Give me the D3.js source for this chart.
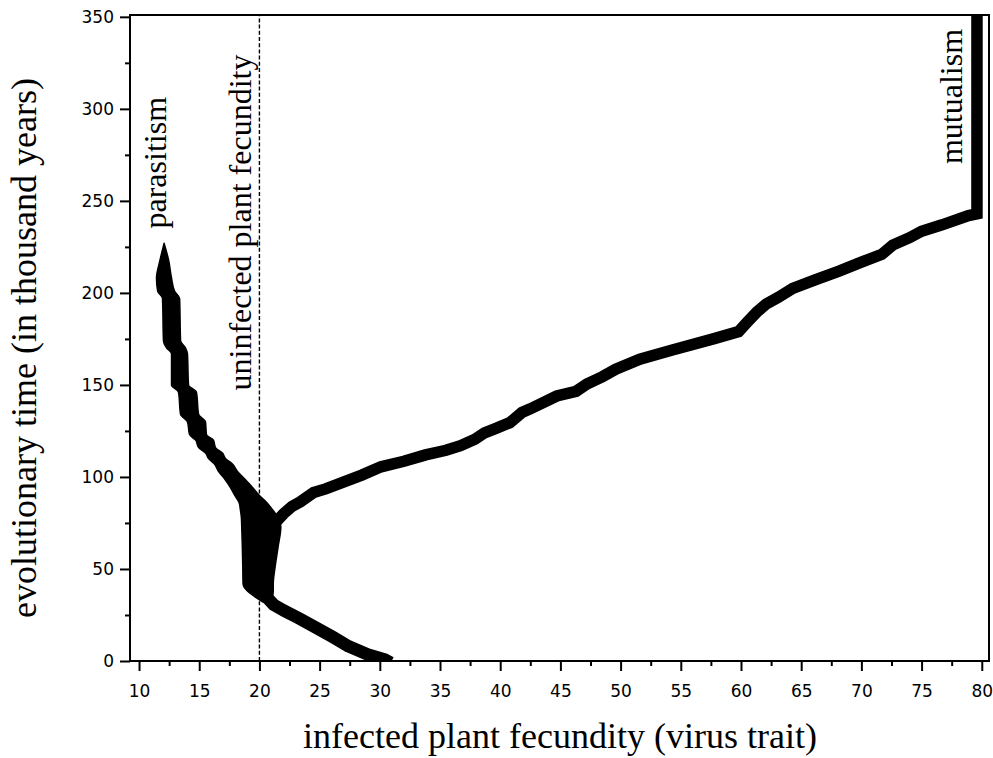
<!DOCTYPE html>
<html>
<head>
<meta charset="utf-8">
<script src="https://cdn.jsdelivr.net/npm/d3@7"></script>
<style>
  body { margin: 0; background: #fff; }
</style>
</head>
<body>
<div id="chart"></div>
<script>
// ancestral trunk: (trait, time) before branching
const trunkTrait = [20.3, 20.7, 21.2, 22.0, 23.2, 24.6, 26.1, 27.4, 29.0, 30.4, 30.9];
const trunkTime  = [40, 34, 30.5, 27.5, 23.5, 18.5, 13, 8, 3.5, 0.8, -1];

// parasitic stem + dimorphic blob, drawn as left/right extent per time
const stemTime = [227, 218, 208, 201, 197, 174, 170, 167, 150, 146, 134, 130, 123, 120, 116, 113, 110, 107, 103, 99, 95, 90, 86, 82, 78, 73, 62, 50, 42, 38, 35, 32];
const stemLow  = [12.08, 11.75, 11.45, 11.55, 11.95, 12.03, 12.30, 12.70, 12.70, 13.28, 13.45, 14.02, 14.20, 14.70, 14.95, 15.52, 15.78, 16.27, 16.60, 17.10, 17.52, 17.95, 18.32, 18.42, 18.50, 18.53, 18.58, 18.62, 18.64, 19.0, 19.6, 20.3];
const stemHigh = [12.08, 12.45, 12.70, 12.95, 13.37, 13.45, 13.86, 14.02, 14.11, 14.77, 14.95, 15.52, 15.60, 16.18, 16.35, 16.93, 17.18, 17.76, 18.18, 18.76, 19.34, 19.98, 20.62, 21.12, 21.55, 21.78, 21.55, 21.28, 21.15, 21.15, 21.10, 21.00];

// mutualistic branch
const branchTrait = [21.3, 22.0, 22.7, 23.4, 24.5, 25.5, 27.3, 28.5, 30.1, 32.0, 33.8, 35.5, 36.7, 37.9, 38.7, 39.7, 40.8, 41.8, 42.5, 44.7, 46.3, 47.2, 48.5, 49.6, 51.6, 54.3, 57.7, 59.8, 60.5, 61.3, 62.1, 63.1, 64.3, 66.1, 68.2, 70.0, 71.7, 72.6, 74.0, 75.0, 76.7, 78.9, 79.6, 79.6];
const branchTime  = [75, 80, 84, 86.5, 91.5, 93.5, 98, 101, 105.5, 108.5, 112, 114.5, 117, 120.5, 124, 126.5, 129.5, 135, 137, 144, 146.5, 150.5, 154.5, 158.5, 164, 169, 175, 179, 184, 189.5, 194, 197.6, 202.5, 207, 212, 216.7, 221, 226, 230, 233.5, 237, 242, 243, 355];

const uninfectedFecundity = 20;

const xTickValues = [10, 15, 20, 25, 30, 35, 40, 45, 50, 55, 60, 65, 70, 75, 80];
const xMinorTicks = [12.5, 17.5, 22.5, 27.5, 32.5, 37.5, 42.5, 47.5, 52.5, 57.5, 62.5, 67.5, 72.5, 77.5];
const yTickValues = [0, 50, 100, 150, 200, 250, 300, 350];
const yMinorTicks = [25, 75, 125, 175, 225, 275, 325];

let width = 993,
  height = 758,
  margin = ({ top: 15, right: 4, bottom: 97, left: 130 });

let x = d3.scaleLinear()
  .domain([9.25, 80.6])
  .range([margin.left, width - margin.right]);

let y = d3.scaleLinear()
  .domain([0, 351])
  .range([height - margin.bottom, margin.top]);

const svg = d3.select("#chart")
  .append("svg")
  .attr("width", width)
  .attr("height", height)
  .attr("viewBox", [0, 0, width, height]);

svg.append("clipPath")
  .attr("id", "plot")
  .append("rect")
  .attr("x", margin.left)
  .attr("y", margin.top)
  .attr("width", width - margin.left - margin.right)
  .attr("height", height - margin.top - margin.bottom);

const plot = svg.append("g").attr("clip-path", "url(#plot)");

// dashed reference line
plot.append("line")
  .attr("x1", x(uninfectedFecundity))
  .attr("x2", x(uninfectedFecundity))
  .attr("y1", y(0))
  .attr("y2", y(351))
  .attr("stroke", "#000")
  .attr("stroke-width", 1.4)
  .attr("stroke-dasharray", "4,2.2");

let stem = stemTime.map((t, i) => ({ t: t, lo: stemLow[i], hi: stemHigh[i] }));
let trunk = trunkTime.map((t, i) => ({ t: t, v: trunkTrait[i] }));
let branch = branchTime.map((t, i) => ({ t: t, v: branchTrait[i] }));

let area = d3.area()
  .y(d => y(d.t))
  .x0(d => x(d.lo))
  .x1(d => x(d.hi))
  .curve(d3.curveMonotoneY);

let line = d3.line()
  .x(d => x(d.v))
  .y(d => y(d.t));

plot.append("path")
  .datum(stem)
  .attr("fill", "#000")
  .attr("stroke", "#000")
  .attr("stroke-width", 1.5)
  .attr("stroke-linejoin", "round")
  .attr("d", area);

plot.append("path")
  .datum(trunk)
  .attr("fill", "none")
  .attr("stroke", "#000")
  .attr("stroke-width", 12.5)
  .attr("stroke-linejoin", "round")
  .attr("d", line);

plot.append("path")
  .datum(branch)
  .attr("fill", "none")
  .attr("stroke", "#000")
  .attr("stroke-width", 11.5)
  .attr("stroke-linejoin", "miter")
  .attr("d", line);

// axes
svg.append("g")
  .attr("transform", `translate(0,${y(0)})`)
  .call(d3.axisBottom(x).tickValues(xTickValues).tickSize(10).tickSizeOuter(0).tickPadding(14));

svg.append("g")
  .attr("transform", `translate(0,${y(0)})`)
  .call(d3.axisBottom(x).tickValues(xMinorTicks).tickSize(5).tickFormat(""));

svg.append("g")
  .attr("transform", `translate(${margin.left},0)`)
  .call(d3.axisLeft(y).tickValues(yTickValues).tickSize(10).tickSizeOuter(0).tickPadding(6));

svg.append("g")
  .attr("transform", `translate(${margin.left},0)`)
  .call(d3.axisLeft(y).tickValues(yMinorTicks).tickSize(5).tickFormat(""));

svg.selectAll(".domain").remove();
svg.selectAll(".tick line").attr("stroke", "#000").attr("stroke-width", 2);
svg.selectAll(".tick text")
  .attr("fill", "#000")
  .style("font-family", "'DejaVu Sans', sans-serif")
  .style("font-size", "17px");

// frame
svg.append("rect")
  .attr("x", margin.left)
  .attr("y", margin.top)
  .attr("width", width - margin.left - margin.right)
  .attr("height", height - margin.top - margin.bottom)
  .attr("fill", "none")
  .attr("stroke", "#000")
  .attr("stroke-width", 2);

const serif = "'Liberation Serif', 'Times New Roman', serif";

svg.append("text")
  .attr("x", 560)
  .attr("y", 748)
  .attr("text-anchor", "middle")
  .style("font-family", serif)
  .style("font-size", "36px")
  .text("infected plant fecundity (virus trait)");

svg.append("text")
  .attr("transform", "translate(36,348) rotate(-90)")
  .attr("text-anchor", "middle")
  .style("font-family", serif)
  .style("font-size", "36px")
  .text("evolutionary time (in thousand years)");

// annotations
svg.append("text")
  .attr("transform", `translate(166,${y(235)}) rotate(-90)`)
  .style("font-family", serif)
  .style("font-size", "32px")
  .text("parasitism");

svg.append("text")
  .attr("transform", `translate(251,${y(147)}) rotate(-90)`)
  .style("font-family", serif)
  .style("font-size", "32px")
  .text("uninfected plant fecundity");

svg.append("text")
  .attr("transform", `translate(962,${y(270)}) rotate(-90)`)
  .style("font-family", serif)
  .style("font-size", "32px")
  .text("mutualism");
</script>
</body>
</html>
